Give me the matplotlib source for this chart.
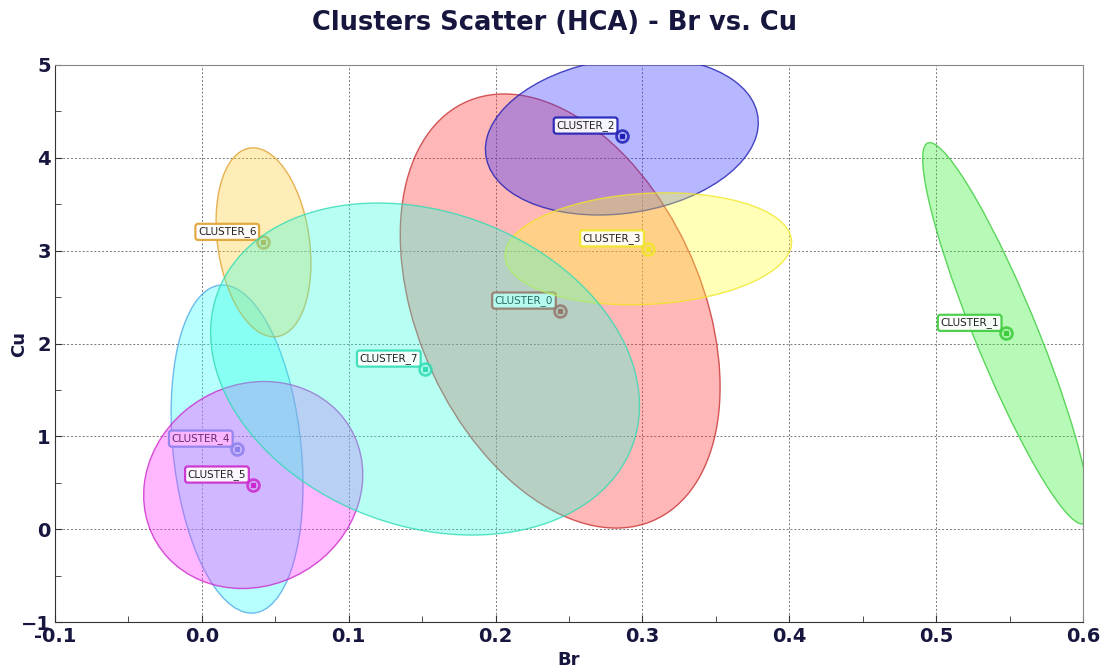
import numpy as np
import matplotlib
matplotlib.use("Agg")
import matplotlib.pyplot as plt
from matplotlib.patches import Ellipse
from matplotlib.ticker import MultipleLocator

# cluster centres (Br, Cu) and spread of each cluster
labels = ['CLUSTER_0', 'CLUSTER_1', 'CLUSTER_2', 'CLUSTER_3',
          'CLUSTER_4', 'CLUSTER_5', 'CLUSTER_6', 'CLUSTER_7']
br_mean = [0.244, 0.5475, 0.286, 0.304, 0.024, 0.035, 0.042, 0.152]
cu_mean = [2.35, 2.11, 4.235, 3.02, 0.863, 0.476, 3.09, 1.725]
br_spread = [0.1089, 0.0567, 0.0929, 0.0976, 0.0449, 0.0746, 0.0323, 0.146]
cu_spread = [2.338, 2.054, 0.851, 0.603, 1.767, 1.115, 1.018, 1.788]
corr = [-0.35, -0.915, 0.17, 0.12, -0.22, 0.10, -0.22, -0.22]

fill_colors = ['#ff3333', '#33ee33', '#3333ff', '#ffff33',
               '#33ffff', '#ff33ff', '#ffcc33', '#33ffdd']
line_colors = ['#c83232', '#3ccc3c', '#1e1eb4', '#f0e628',
               '#50aae6', '#cc28cc', '#e0a030', '#32dcb4']

navy = '#16163f'

fig = plt.figure(figsize=(11.1, 6.7), dpi=100)
ax = fig.add_axes([0.0495, 0.0716, 0.9262, 0.8314])

for i in range(len(labels)):
    sx, sy, r = br_spread[i], cu_spread[i], corr[i]
    cov = np.array([[sx * sx, r * sx * sy], [r * sx * sy, sy * sy]])
    vals, vecs = np.linalg.eigh(cov)
    angle = np.degrees(np.arctan2(vecs[1, 1], vecs[0, 1]))
    w, h = 2 * np.sqrt(vals[1]), 2 * np.sqrt(vals[0])
    ax.add_patch(Ellipse((br_mean[i], cu_mean[i]), w, h, angle=angle,
                         facecolor=fill_colors[i], alpha=0.35,
                         edgecolor='none', zorder=3 + 4 * i))
    ax.add_patch(Ellipse((br_mean[i], cu_mean[i]), w, h, angle=angle,
                         facecolor='none', edgecolor=line_colors[i],
                         lw=1.0, alpha=0.8, zorder=3 + 4 * i))
    ax.plot(br_mean[i], cu_mean[i], 'o', ms=8.5, mfc='none', mec=line_colors[i],
            mew=2, alpha=0.85, zorder=4 + 4 * i)
    ax.plot(br_mean[i], cu_mean[i], 's', ms=3, color=line_colors[i], zorder=4 + 4 * i)
    ax.annotate(labels[i], (br_mean[i], cu_mean[i]), xytext=(-7, 5),
                textcoords='offset pixels', ha='right', va='bottom',
                fontsize=7.5, color='#222222', zorder=5 + 4 * i,
                bbox=dict(boxstyle='round,pad=0.25', fc='white', ec=line_colors[i],
                          lw=1.6, alpha=0.9))

ax.set_xlim(-0.1, 0.6)
ax.set_ylim(-1, 5)
ax.xaxis.set_major_locator(MultipleLocator(0.1))
ax.xaxis.set_minor_locator(MultipleLocator(0.05))
ax.yaxis.set_major_locator(MultipleLocator(1))
ax.yaxis.set_minor_locator(MultipleLocator(0.5))
ax.set_xticklabels([f'{v:.1f}' for v in ax.get_xticks()])
ax.grid(True, which='major', color='#777777', linestyle=(0, (2, 2)), lw=0.7, zorder=1)
ax.set_axisbelow(True)

ax.tick_params(which='both', direction='in', colors='#333333', labelcolor=navy,
               labelsize=14)
ax.tick_params(which='major', length=5)
ax.tick_params(which='minor', length=4)
ax.tick_params(axis='y', pad=3)
for lab in ax.get_xticklabels() + ax.get_yticklabels():
    lab.set_fontweight('bold')
for side in ['left', 'bottom']:
    ax.spines[side].set_color('#333333')
for side in ['top', 'right']:
    ax.spines[side].set_color('#888888')

ax.set_xlabel('Br', fontsize=13, fontweight='bold', color=navy)
ax.set_ylabel('Cu', fontsize=13, fontweight='bold', color=navy)
ax.xaxis.set_label_coords(0.5, -0.052)
ax.yaxis.set_label_coords(-0.026, 0.5)
fig.suptitle('Clusters Scatter (HCA) - Br vs. Cu', fontsize=18.5, fontweight='bold',
             color=navy, y=0.985)

fig.savefig('out.png', dpi=100)
